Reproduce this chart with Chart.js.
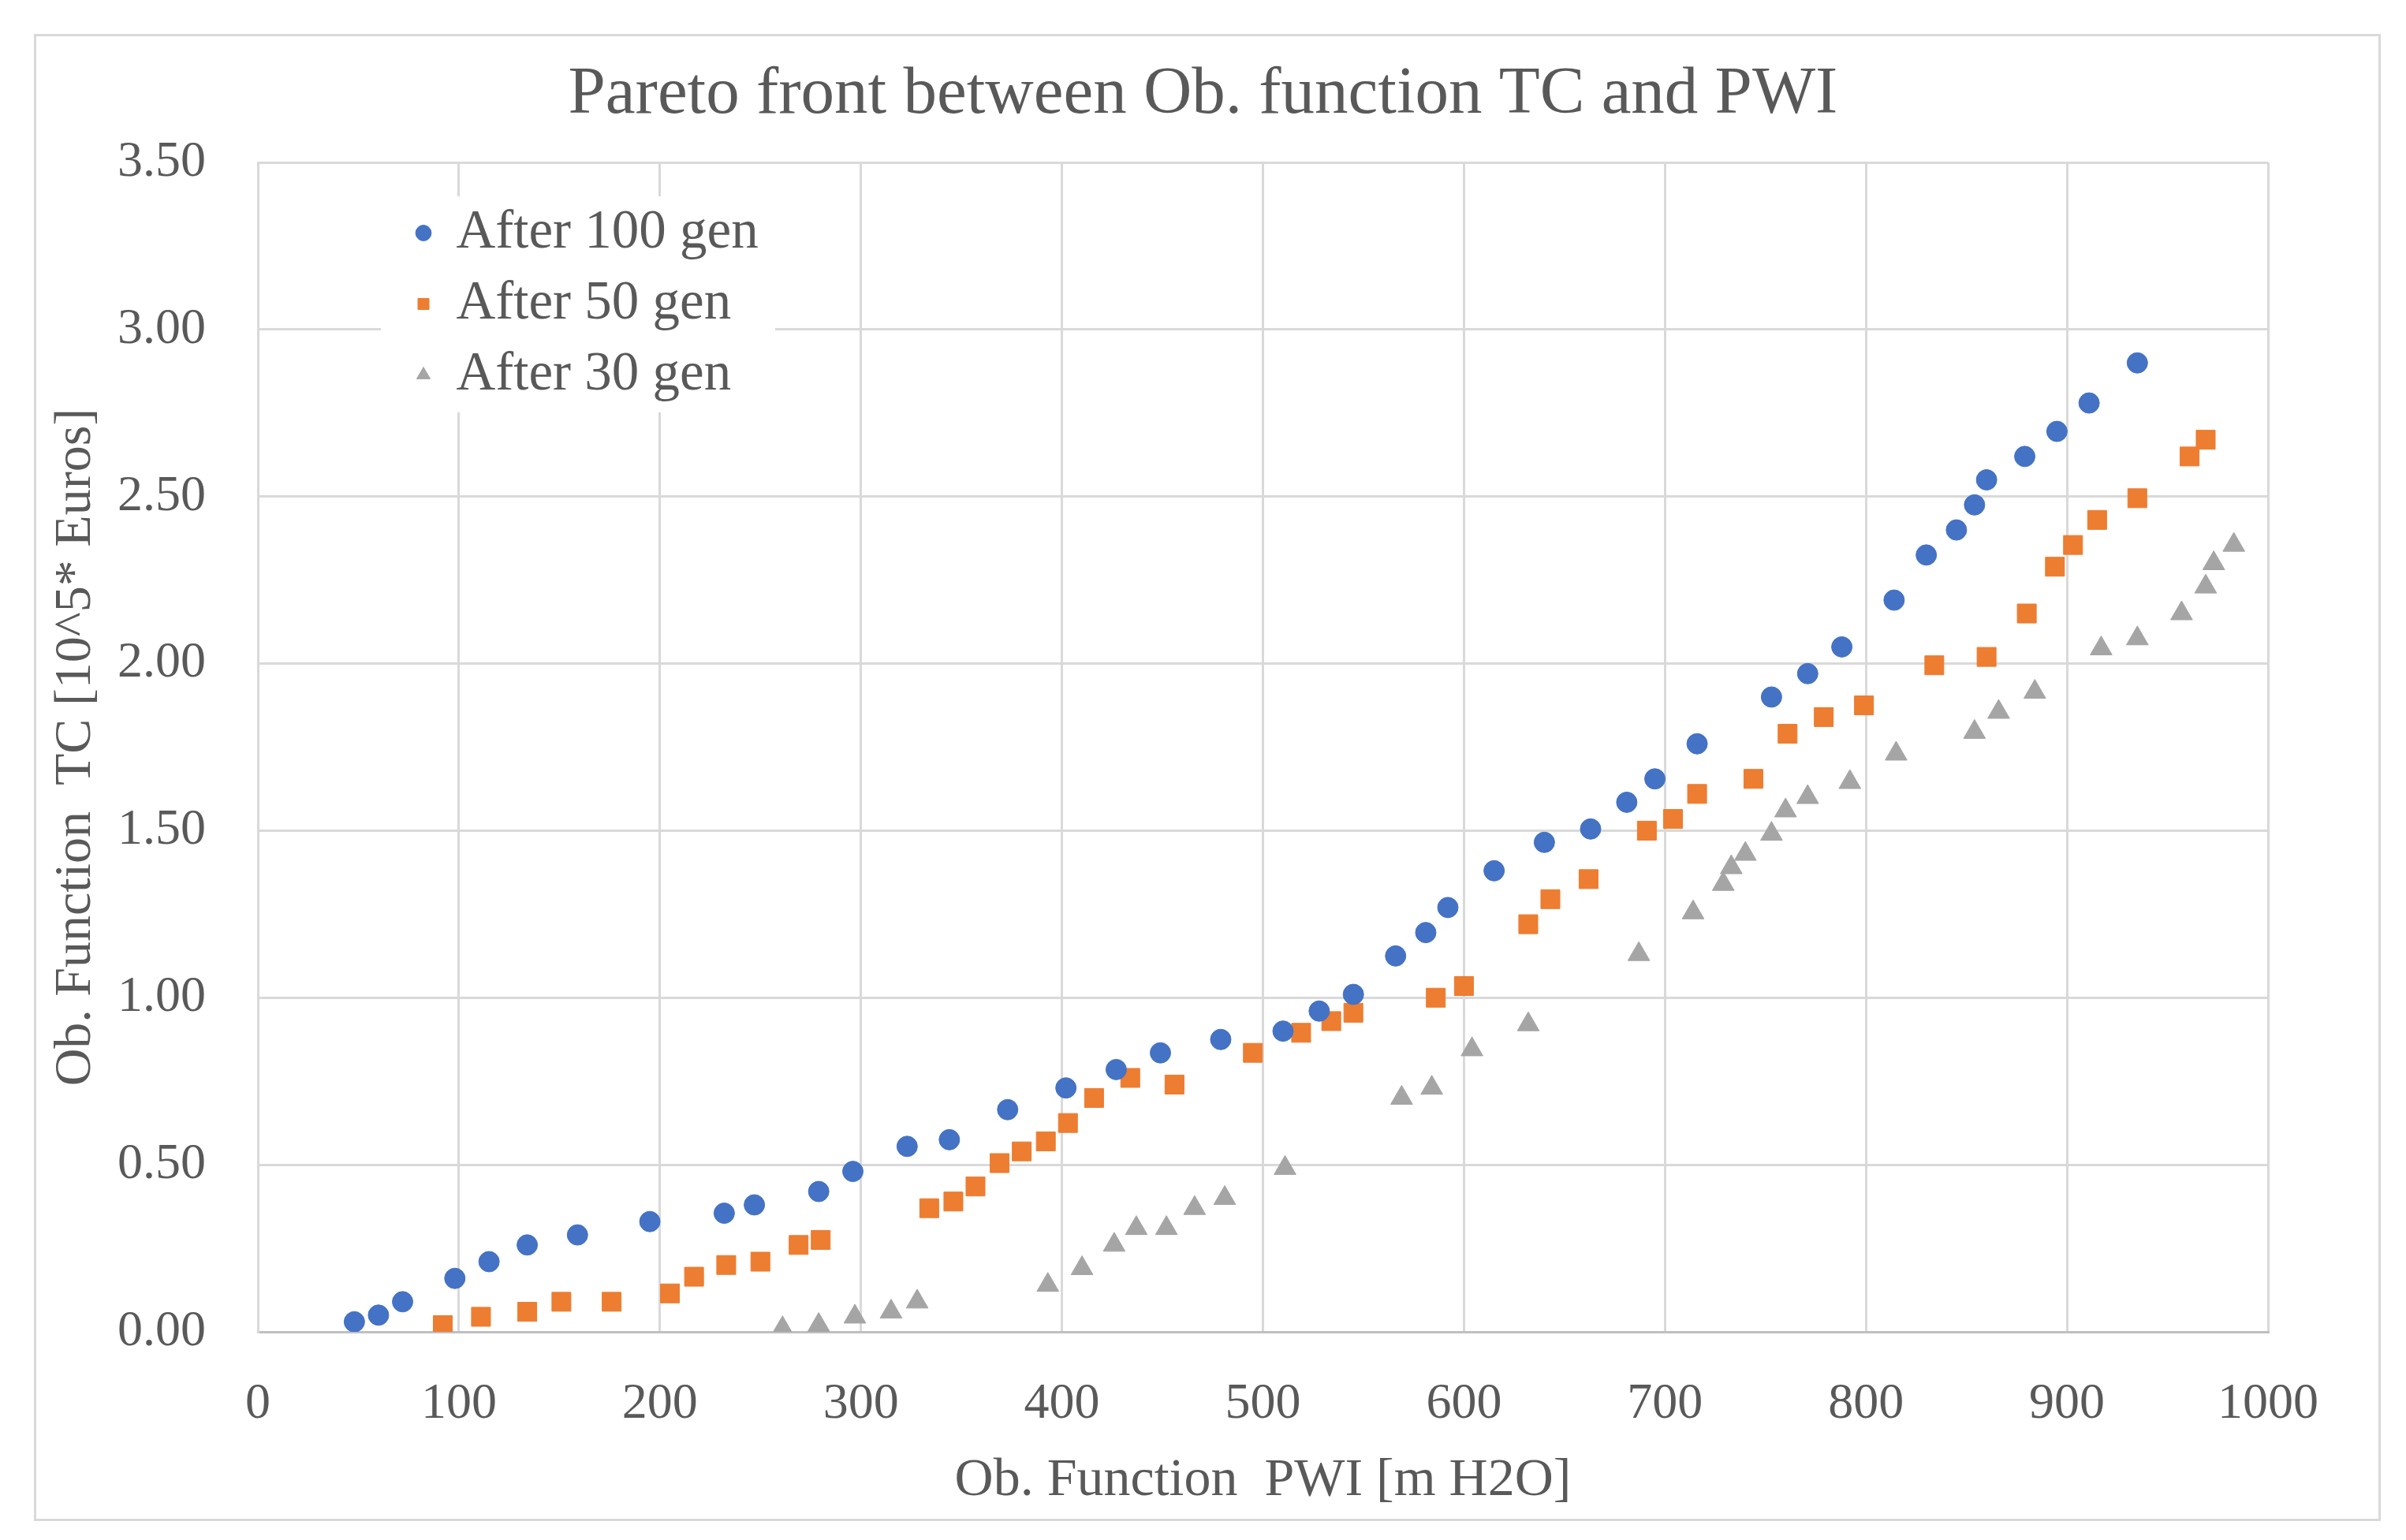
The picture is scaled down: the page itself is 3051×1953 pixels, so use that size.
<!DOCTYPE html>
<html>
<head>
<meta charset="utf-8">
<title>Pareto front</title>
<script src="https://cdn.jsdelivr.net/npm/chart.js@4.4.1/dist/chart.umd.min.js"></script>
<style>
  html, body { margin: 0; padding: 0; background: #ffffff; }
  #wrap { position: relative; width: 3051px; height: 1953px; }
  #frame { position: absolute; left: 43px; top: 43px; width: 2970px; height: 1880px; border: 3px solid #d9d9d9; }
  #chart { position: absolute; left: 0; top: 0; }
</style>
</head>
<body>
<div id="wrap">
  <div id="frame"></div>
  <canvas id="chart" width="3051" height="1953"></canvas>
</div>
<script>
// data
const gen100X = [48, 60, 72, 98, 115, 134, 159, 195, 232, 247, 279, 296, 323, 344, 373, 402, 427, 449, 479, 510, 528, 545, 566, 581, 592, 615, 640, 663, 681, 695, 716, 753, 771, 788, 814, 830, 845, 854, 860, 879, 895, 911, 935];
const gen100Y = [0.03, 0.05, 0.09, 0.16, 0.21, 0.26, 0.29, 0.33, 0.355, 0.38, 0.42, 0.48, 0.555, 0.575, 0.665, 0.73, 0.785, 0.835, 0.875, 0.90, 0.96, 1.01, 1.125, 1.195, 1.27, 1.38, 1.465, 1.505, 1.585, 1.655, 1.76, 1.90, 1.97, 2.05, 2.19, 2.325, 2.40, 2.475, 2.55, 2.62, 2.695, 2.78, 2.90];

const gen50X = [92, 111, 134, 151, 176, 205, 217, 233, 250, 269, 280, 334, 346, 357, 369, 380, 392, 403, 416, 434, 456, 495, 519, 534, 545, 586, 600, 632, 643, 662, 691, 704, 716, 744, 761, 779, 799, 834, 860, 880, 894, 903, 915, 935, 961, 969];
const gen50Y = [0.02, 0.045, 0.06, 0.09, 0.09, 0.115, 0.165, 0.20, 0.21, 0.26, 0.275, 0.37, 0.39, 0.435, 0.505, 0.54, 0.57, 0.625, 0.70, 0.76, 0.74, 0.835, 0.895, 0.93, 0.955, 1.00, 1.035, 1.22, 1.295, 1.355, 1.50, 1.535, 1.61, 1.655, 1.79, 1.84, 1.875, 1.995, 2.02, 2.15, 2.29, 2.355, 2.43, 2.495, 2.62, 2.67];

const gen30X = [261, 279, 297, 315, 328, 393, 410, 426, 437, 452, 466, 481, 511, 569, 584, 604, 632, 687, 714, 729, 733, 740, 753, 760, 771, 792, 815, 854, 866, 884, 917, 935, 957, 969, 973, 983];
const gen30Y = [0.01, 0.02, 0.045, 0.06, 0.09, 0.14, 0.19, 0.26, 0.31, 0.31, 0.37, 0.40, 0.49, 0.70, 0.73, 0.845, 0.92, 1.13, 1.255, 1.34, 1.39, 1.43, 1.49, 1.56, 1.60, 1.645, 1.73, 1.795, 1.855, 1.915, 2.045, 2.075, 2.15, 2.23, 2.30, 2.355];

const seriesNames = ['After 100 gen', 'After 50 gen', 'After 30 gen'];
const chartTitle = 'Pareto front between Ob. function TC and PWI';
const xTitle = 'Ob. Function  PWI [m H2O]';
const yTitle = 'Ob. Function  TC [10^5* Euros]';

const textColor = '#595959';
const gridColor = '#d9d9d9';
const serif = "'Liberation Serif', 'DejaVu Serif', serif";

function toPoints(xs, ys) {
    return xs.map((x, i) => ({ x: x, y: ys[i] }));
}

// legend sits inside the plot, on a white box
const legendBox = {
    id: 'legendBox',
    afterLayout(chart) {
        const lg = chart.legend;
        const h = lg.height;
        lg.left = chart.chartArea.left + 182;
        lg.top = chart.chartArea.top + 34;
        lg.bottom = lg.top + h;
    },
    beforeDatasetsDraw(chart) {
        const ctx = chart.ctx;
        ctx.save();
        ctx.fillStyle = '#ffffff';
        ctx.fillRect(483, 249, 500, 274);
        ctx.restore();
        chart.legend.draw();
    }
};

const ctx = document.getElementById('chart').getContext('2d');
new Chart(ctx, {
    type: 'scatter',
    data: {
        datasets: [
            {
                label: seriesNames[0],
                data: toPoints(gen100X, gen100Y),
                pointStyle: 'circle',
                pointRadius: 13,
                backgroundColor: '#4472c4',
                borderColor: '#4472c4',
                borderWidth: 1
            },
            {
                label: seriesNames[1],
                data: toPoints(gen50X, gen50Y),
                pointStyle: 'rect',
                pointRadius: 17,
                backgroundColor: '#ed7d31',
                borderColor: '#ed7d31',
                borderWidth: 1
            },
            {
                label: seriesNames[2],
                data: toPoints(gen30X, gen30Y),
                pointStyle: 'triangle',
                pointRadius: 16,
                backgroundColor: '#a5a5a5',
                borderColor: '#a5a5a5',
                borderWidth: 1
            }
        ]
    },
    options: {
        responsive: false,
        devicePixelRatio: 1,
        animation: false,
        layout: {
            padding: 0
        },
        plugins: {
            title: {
                display: true,
                text: chartTitle,
                color: textColor,
                font: { family: serif, size: 85, weight: 'normal' },
                padding: { top: 70, bottom: 34 }
            },
            legend: {
                position: 'chartArea',
                align: 'start',
                labels: {
                    usePointStyle: true,
                    boxWidth: 14,
                    boxHeight: 14,
                    padding: 21,
                    color: textColor,
                    font: { family: serif, size: 69 }
                }
            },
            tooltip: { enabled: false }
        },
        scales: {
            x: {
                type: 'linear',
                min: 0,
                max: 1000,
                afterFit: (scale) => { scale.height = 264; },
                ticks: {
                    stepSize: 100,
                    padding: 54,
                    color: textColor,
                    font: { family: serif, size: 64 },
                    callback: (v) => String(v)
                },
                grid: { color: gridColor, lineWidth: 3, drawTicks: false },
                border: { color: '#bfbfbf', width: 3 },
                title: {
                    display: true,
                    text: xTitle,
                    color: textColor,
                    font: { family: serif, size: 68 },
                    padding: { top: 0, bottom: 34 }
                }
            },
            y: {
                type: 'linear',
                min: 0,
                max: 3.5,
                afterFit: (scale) => { scale.width = 327; },
                ticks: {
                    stepSize: 0.5,
                    padding: 66,
                    color: textColor,
                    font: { family: serif, size: 64 },
                    callback: (v) => v.toFixed(2)
                },
                grid: { color: gridColor, lineWidth: 3, drawTicks: false },
                border: { color: gridColor, width: 3 },
                title: {
                    display: true,
                    text: yTitle,
                    color: textColor,
                    font: { family: serif, size: 66 },
                    padding: { top: 57, bottom: 0 }
                }
            },
            // empty right-hand axis, only keeps the margin on the right
            yRight: {
                type: 'linear',
                position: 'right',
                min: 0,
                max: 3.5,
                afterFit: (scale) => { scale.width = 175; },
                ticks: { display: false },
                grid: { display: false, drawTicks: false },
                border: { display: false }
            }
        }
    },
    plugins: [legendBox]
});
</script>
</body>
</html>
